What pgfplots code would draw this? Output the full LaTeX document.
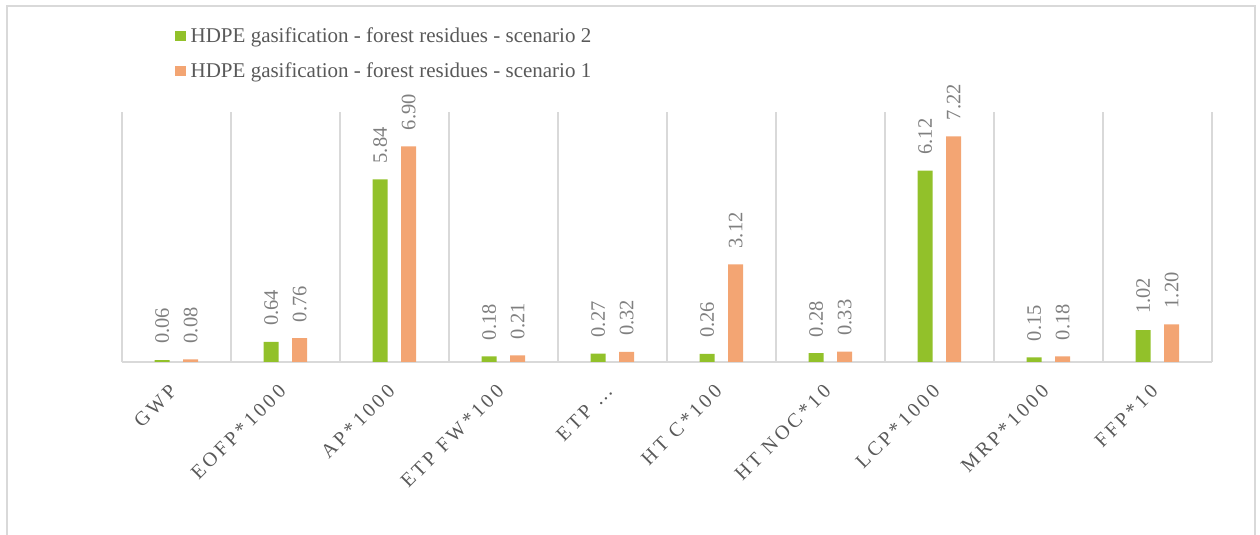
\documentclass[border=0pt]{standalone}
\usepackage{fontspec}
\setmainfont{Liberation Serif}
\usepackage{pgfplots}
\pgfplotsset{compat=1.18}

\definecolor{barGreen}{HTML}{92C12A}
\definecolor{barOrange}{HTML}{F3A573}
\definecolor{gridGray}{HTML}{D9D9D9}
\definecolor{textDark}{HTML}{595959}
\definecolor{textLight}{HTML}{7F7F7F}

\newfontfamily\tickfont[LetterSpace=16]{Liberation Serif}

\begin{document}
\begin{tikzpicture}
\path[use as bounding box] (0,0) rectangle (1260pt,535pt);
% chart area border
\draw[gridGray, line width=1.5pt] (7pt,-10pt) -- (7pt,529pt) -- (1255pt,529pt) -- (1255pt,-10pt);
\begin{axis}[
  at={(122pt,173pt)}, anchor=south west,
  scale only axis, width=1090pt, height=250pt,
  xmin=-0.5, xmax=9.5, ymin=0, ymax=8,
  enlargelimits=false, clip=false,
  ybar=13.5pt, bar width=15pt,
  axis y line=none,
  axis x line*=bottom,
  x axis line style={gridGray, line width=2pt, -},
  xtick={0,...,9},
  xticklabels={GWP, EOFP*1000, AP*1000, ETP FW*100, ETP …, HT C*100, HT NOC*10, LCP*1000, MRP*1000, FFP*10},
  major tick length=0pt,
  xticklabel style={xshift=-8pt, yshift=-21pt, rotate=45, anchor=north east, inner sep=0pt,
    font=\tickfont\fontsize{20}{24}\selectfont, text=textDark},
  extra x ticks={-0.5,0.5,...,9.5},
  extra x tick labels={},
  extra x tick style={grid=major, major grid style={gridGray, line width=1.5pt}},
  nodes near coords={\pgfmathprintnumber[fixed,fixed zerofill,precision=2,assume math mode=true]{\pgfplotspointmeta}},
  every node near coord/.append style={rotate=90, anchor=west, inner xsep=16pt, inner ysep=0pt,
    font=\fontsize{20.5}{24}\selectfont, text=textLight},
  legend cell align=left,
  legend style={draw=none, fill=none, at={(axis description cs:0.0486,1.338)}, anchor=north west,
    font=\fontsize{21}{25}\selectfont, text=textDark, inner sep=0pt, row sep=19pt,
    nodes={inner sep=0pt},
    /tikz/every odd column/.append style={column sep=5pt}},
]
\addplot[fill=barGreen, draw=none,
  legend image code/.code={\fill[barGreen] (0pt,-5.25pt) rectangle (10.5pt,5.25pt);}]
  coordinates {(0,0.06) (1,0.64) (2,5.84) (3,0.18) (4,0.27) (5,0.26) (6,0.28) (7,6.12) (8,0.15) (9,1.02)};
\addlegendentry{HDPE gasification - forest residues - scenario 2}
\addplot[fill=barOrange, draw=none,
  legend image code/.code={\fill[barOrange] (0pt,-5.25pt) rectangle (10.5pt,5.25pt);}]
  coordinates {(0,0.08) (1,0.76) (2,6.90) (3,0.21) (4,0.32) (5,3.12) (6,0.33) (7,7.22) (8,0.18) (9,1.20)};
\addlegendentry{HDPE gasification - forest residues - scenario 1}
\end{axis}
\end{tikzpicture}
\end{document}
